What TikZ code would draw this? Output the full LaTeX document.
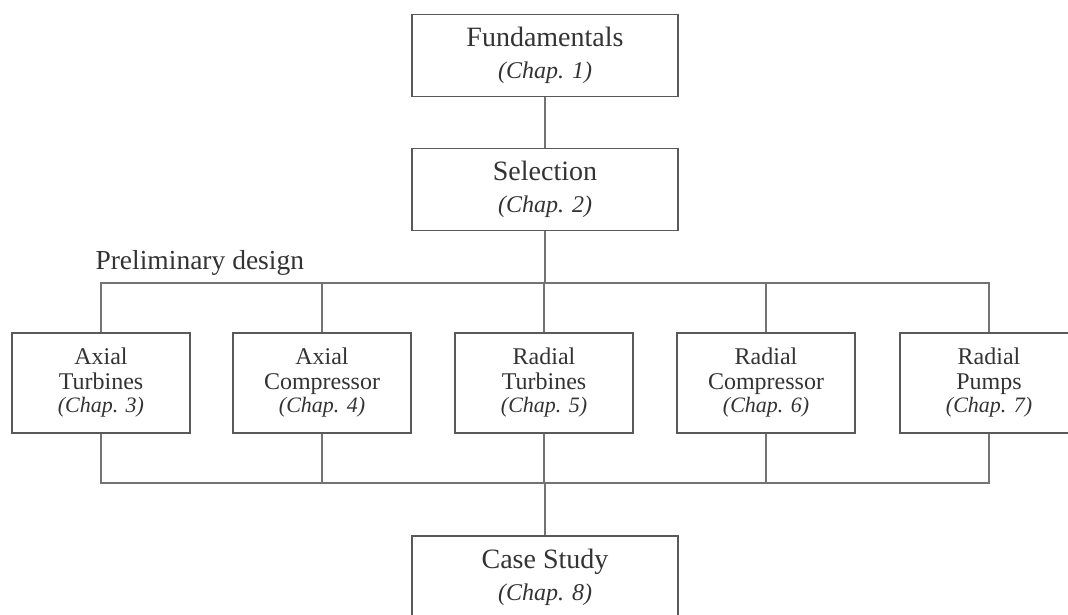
\documentclass[tikz,border=0pt]{standalone}
\usepackage{fontspec}
\setmainfont{Liberation Serif}
\usetikzlibrary{positioning}

\begin{document}
\begin{tikzpicture}[x=1pt,y=-1pt,
  box/.style={draw=black!65,line width=1.3pt,align=center,text=black!80},
  chapbox/.style={box,minimum width=266pt,minimum height=82pt,font=\fontsize{28}{32}\selectfont,
    execute at begin node={\rule{0pt}{31pt}}},
  partbox/.style={box,minimum width=178pt,minimum height=100pt,font=\fontsize{24}{25}\selectfont},
  link/.style={draw=black!55,line width=1.3pt}]
  \useasboundingbox (0,0) rectangle (1068,614);

  % chapters on top
  \node[chapbox] (fund) at (545,55.5) {Fundamentals\\{\fontsize{24}{28}\selectfont\itshape (Chap. 1)}};
  \node[chapbox] (sel) at (545,189.5) {Selection\\{\fontsize{24}{28}\selectfont\itshape (Chap. 2)}};

  % preliminary design
  \node[anchor=west,text=black!80,font=\fontsize{27.5}{30}\selectfont] (prelim) at (92,263) {Preliminary design};
  \node[partbox] (axt) at (101,383) {Axial\\Turbines\\[-2pt]{\fontsize{22}{25}\selectfont\itshape (Chap. 3)}};
  \node[partbox] (axc) at (322,383) {Axial\\Compressor\\[-2pt]{\fontsize{22}{25}\selectfont\itshape (Chap. 4)}};
  \node[partbox] (rtu) at (544,383) {Radial\\Turbines\\[-2pt]{\fontsize{22}{25}\selectfont\itshape (Chap. 5)}};
  \node[partbox] (rco) at (766,383) {Radial\\Compressor\\[-2pt]{\fontsize{22}{25}\selectfont\itshape (Chap. 6)}};
  \node[partbox] (rpm) at (989,383) {Radial\\Pumps\\[-2pt]{\fontsize{22}{25}\selectfont\itshape (Chap. 7)}};

  % case study
  \node[chapbox] (case) at (545,577) {Case Study\\{\fontsize{24}{28}\selectfont\itshape (Chap. 8)}};

  % links
  \coordinate (top) at (545,283);
  \coordinate (bot) at (545,483);
  \draw[link] (fund) -- (sel);
  \draw[link] (sel) -- (top);
  \draw[link] (axt.north) |- (top) -| (rpm.north);
  \draw[link] (axc.north) -- (axc.north |- top);
  \draw[link] (rtu.north) -- (rtu.north |- top);
  \draw[link] (rco.north) -- (rco.north |- top);
  \draw[link] (axt.south) |- (bot) -| (rpm.south);
  \draw[link] (axc.south) -- (axc.south |- bot);
  \draw[link] (rtu.south) -- (rtu.south |- bot);
  \draw[link] (rco.south) -- (rco.south |- bot);
  \draw[link] (bot) -- (case);
\end{tikzpicture}
\end{document}
